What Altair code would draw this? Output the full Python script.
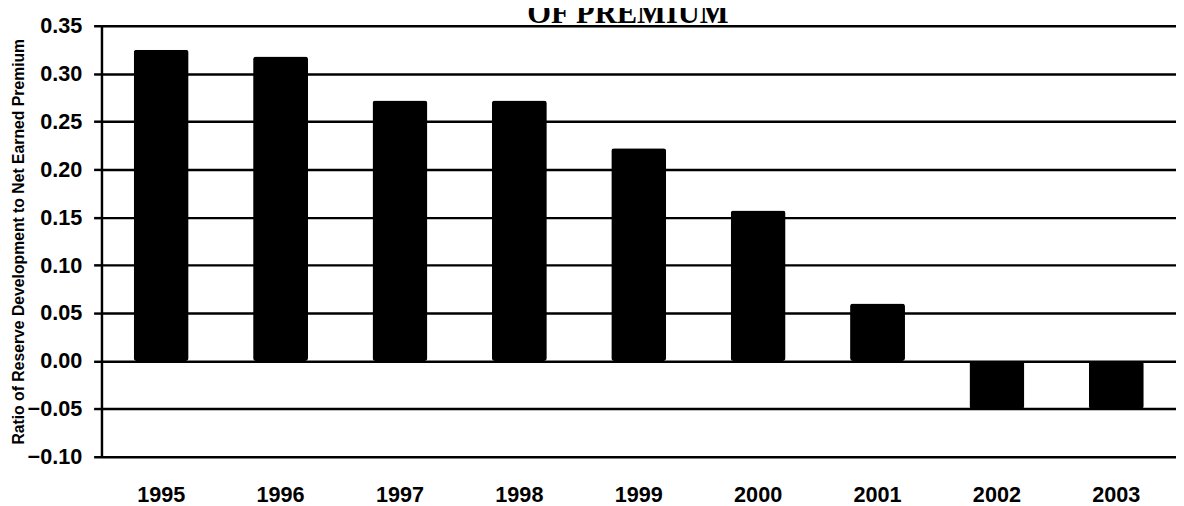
import altair as alt
import pandas as pd

years = ["1995", "1996", "1997", "1998", "1999", "2000", "2001", "2002", "2003"]
ratios = [0.325, 0.318, 0.272, 0.272, 0.222, 0.157, 0.060, -0.050, -0.050]
y_ticks = [-0.10, -0.05, 0.00, 0.05, 0.10, 0.15, 0.20, 0.25, 0.30, 0.35]
title_text = "OF PREMIUM"
y_title = "Ratio of Reserve Development to Net Earned Premium"

df = pd.DataFrame({"year": years, "ratio": ratios})
title_df = pd.DataFrame({"t": [title_text]})

bars = (
    alt.Chart(df)
    .mark_bar(color="black", cornerRadius=3)
    .encode(
        x=alt.X(
            "year:N",
            sort=years,
            scale=alt.Scale(paddingInner=0.54, paddingOuter=0.27),
            axis=alt.Axis(
                title=None,
                labelAngle=0,
                ticks=False,
                domain=False,
                grid=False,
                labelFont="Liberation Sans",
                labelFontSize=22,
                labelFontWeight="bold",
                labelColor="black",
                labelPadding=28,
            ),
        ),
        y=alt.Y(
            "ratio:Q",
            scale=alt.Scale(domain=[-0.10, 0.35], nice=False, zero=False),
            axis=alt.Axis(
                title=y_title,
                values=y_ticks,
                format=".2f",
                grid=True,
                gridColor="black",
                gridWidth=2.5,
                gridOpacity=1,
                domain=True,
                domainColor="black",
                domainWidth=2.5,
                domainOpacity=1,
                ticks=True,
                tickColor="black",
                tickWidth=2.5,
                tickSize=8,
                labelFont="Liberation Sans",
                labelFontSize=22,
                labelFontWeight="bold",
                labelColor="black",
                labelPadding=12,
                titleFont="Liberation Sans",
                titleFontSize=16,
                titleFontWeight="bold",
                titleColor="black",
                titleAngle=-90,
                titleX=-79,
                titleY=219,
                titleAlign="center",
                titleBaseline="alphabetic",
            ),
        ),
    )
)

title_mark = (
    alt.Chart(title_df)
    .mark_text(
        font="Liberation Serif",
        fontSize=31,
        fontWeight="bold",
        color="black",
        align="center",
        baseline="alphabetic",
    )
    .encode(text="t:N", x=alt.value(535), y=alt.value(-3))
)

chart = (
    alt.layer(bars, title_mark)
    .properties(
        width=1092,
        height=438,
        autosize=alt.AutoSizeParams(type="none"),
        padding={"left": 95, "top": 14, "right": 0, "bottom": 46},
    )
    .configure_view(stroke=None)
    .configure(background="white")
)

chart.save("out.html", embed_options={"renderer": "svg", "actions": False})
